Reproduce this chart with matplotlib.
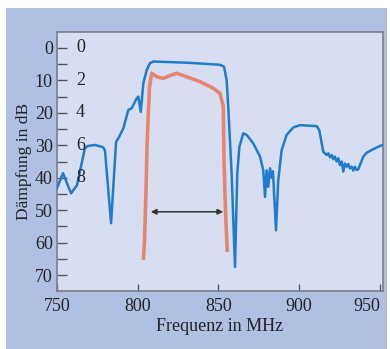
"""Filter response: Dämpfung over Frequenz."""

import matplotlib

matplotlib.use("Agg")
import matplotlib.pyplot as plt
from matplotlib.patches import Rectangle

# blue curve: attenuation (dB) over frequency (MHz)
blue_mhz = [750.0, 753.7, 758.7, 762.4, 767.3, 769.2, 773.5, 778.5, 779.7, 783.5,
            786.6, 788.4, 791.1, 794.2, 796.3, 799.4, 800.4, 801.9, 803.5, 805.6,
            807.6, 809.7, 832.4, 851.0, 853.5, 855.1, 856.1, 858.2, 860.3, 861.7,
            863.0, 865.4, 867.5, 871.6, 875.8, 877.8, 878.9, 879.9, 880.9, 882.0,
            883.0, 883.8, 885.7, 887.1, 889.2, 892.3, 896.4, 900.6, 910.9, 912.5,
            915.0, 917.1, 918.1, 919.2, 920.2, 921.2, 922.2, 923.3, 924.3, 925.3,
            926.4, 927.4, 928.4, 929.5, 930.5, 931.5, 932.6, 933.6, 934.6, 935.7,
            936.7, 937.7, 939.8, 941.9, 946.0, 950.1, 952.0]
blue_db = [43.2, 38.6, 44.8, 42.3, 30.9, 30.2, 29.9, 30.6, 31.5, 54.0,
           29.0, 27.5, 24.8, 19.1, 18.6, 15.5, 15.0, 19.7, 10.9, 6.8,
           4.7, 4.2, 4.6, 5.2, 5.8, 9.9, 18.0, 38.7, 67.5, 38.7,
           30.5, 26.3, 26.8, 29.4, 33.5, 37.7, 45.9, 37.7, 42.8, 37.1,
           40.0, 38.0, 56.2, 40.7, 31.5, 26.8, 24.5, 23.8, 24.1, 25.3,
           32.0, 33.0, 32.5, 33.7, 33.0, 34.3, 33.5, 35.0, 34.0, 36.1,
           35.0, 38.1, 35.6, 36.6, 35.8, 37.1, 36.6, 37.8, 36.6, 37.6,
           37.4, 36.1, 33.5, 32.3, 31.2, 30.2, 29.9]

# red curve: passband, drawn on the same dB axis
red_mhz = [803.5, 804.2, 805.1, 805.8, 806.6, 807.3, 808.7, 811.8, 815.9, 820.0,
           824.2, 830.4, 838.6, 846.8, 851.0, 853.0, 853.5, 854.4, 855.5]
red_db = [65.4, 60.0, 45.0, 30.0, 20.0, 12.0, 7.8, 8.9, 9.4, 8.5,
          7.8, 8.9, 10.4, 12.4, 14.0, 18.0, 34.6, 50.0, 62.9]

arrow_mhz = [808.1, 853.0]
arrow_db = 50.5

y_ticks = [0, 10, 20, 30, 40, 50, 60, 70]
inner_labels = ["0", "2", "4", "6", "8"]
x_ticks = [750, 800, 850, 900, 950]

plt.rcParams["font.family"] = ["Liberation Serif", "DejaVu Serif"]

fig = plt.figure(figsize=(3.9, 3.49), dpi=100)
fig.patch.set_facecolor("white")
fig.patches.append(Rectangle((6 / 390, 0), 381 / 390, 341 / 349,
                             transform=fig.transFigure, facecolor="#afc0e2",
                             edgecolor="none", zorder=-10))

ax = fig.add_axes([57 / 390, 1 - 291 / 349, 326 / 390, 259 / 349])
ax.set_facecolor("#d7def1")
for s in ax.spines.values():
    s.set_color("#7b7f8c")
    s.set_linewidth(1.2)

ax.plot(blue_mhz, blue_db, color="#1f7ccc", lw=1.8, zorder=3)
ax.plot(red_mhz, red_db, color="#e8765a", lw=2.6, alpha=0.85, zorder=2,
        solid_capstyle="butt")
ax.annotate("", xy=(arrow_mhz[0], arrow_db), xytext=(arrow_mhz[1], arrow_db),
            arrowprops=dict(arrowstyle="<|-|>", color="#333333", lw=1.1,
                            mutation_scale=8, shrinkA=0, shrinkB=0))

ax.set_xlim(750, 952)
ax.set_ylim(74.9, -4.9)
ax.set_yticks(y_ticks)
ax.set_yticks([5, 15, 25, 35, 45, 55, 65], minor=True)
ax.set_xticks(x_ticks)
ax.set_xticklabels([str(v) for v in x_ticks])
ax.get_xticklabels()[-1].set_horizontalalignment("right")
ax.tick_params(axis="y", which="both", direction="in", length=7, width=1,
               color="#555555", labelsize=13, pad=3, labelcolor="#222222")
ax.tick_params(axis="x", direction="in", length=5, width=1, color="#555555",
               labelsize=13, pad=5, labelcolor="#222222")
ax.tick_params(axis="both", which="both", right=False, top=False)

for lab, yv in zip(inner_labels, y_ticks):
    ax.text(0.058, yv, lab, transform=ax.get_yaxis_transform(), fontsize=13,
            color="#222222", ha="left", va="center")

ax.set_xlabel("Frequenz in MHz", fontsize=13, color="#222222", labelpad=2)
ax.set_ylabel("Dämpfung in dB", fontsize=12.5, color="#222222", labelpad=2)

fig.savefig("out.png", dpi=100, facecolor=fig.get_facecolor())
